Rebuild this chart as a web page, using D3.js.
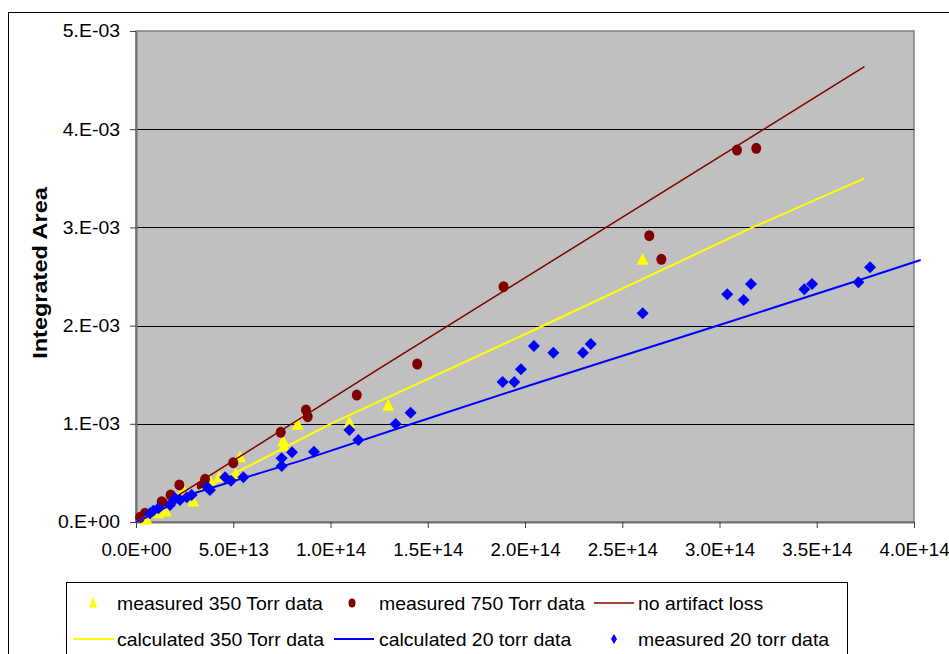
<!DOCTYPE html>
<html>
<head>
<meta charset="utf-8">
<script src="https://cdn.jsdelivr.net/npm/d3@7"></script>
<style>
  html, body { margin: 0; padding: 0; background: #ffffff; }
  svg { display: block; }
  text { font-family: "Liberation Sans", Arial, sans-serif; fill: #000; }
</style>
</head>
<body>
<svg id="chart" width="949" height="654"></svg>
<script>
// ---------------- data ----------------
const xTickValues = [0, 5e13, 1e14, 1.5e14, 2e14, 2.5e14, 3e14, 3.5e14, 4e14];
const xTickLabels = ["0.0E+00", "5.0E+13", "1.0E+14", "1.5E+14", "2.0E+14", "2.5E+14", "3.0E+14", "3.5E+14", "4.0E+14"];
const yTickValues = [0, 1e-3, 2e-3, 3e-3, 4e-3, 5e-3];
const yTickLabels = ["0.E+00", "1.E-03", "2.E-03", "3.E-03", "4.E-03", "5.E-03"];
const yAxisTitle = "Integrated Area";

// measured 350 Torr data (triangles)
const m350X = [0.055e14, 0.115e14, 0.153e14, 0.243e14, 0.295e14, 0.380e14, 0.428e14, 0.514e14, 0.535e14, 0.757e14, 0.761e14, 0.831e14, 1.097e14, 1.297e14, 2.605e14];
const m350Y = [0.020e-3, 0.088e-3, 0.105e-3, 0.326e-3, 0.207e-3, 0.421e-3, 0.455e-3, 0.479e-3, 0.655e-3, 0.818e-3, 0.767e-3, 0.988e-3, 1.005e-3, 1.181e-3, 2.668e-3];

// measured 750 Torr data (circles)
const m750X = [0.021e14, 0.046e14, 0.132e14, 0.140e14, 0.178e14, 0.223e14, 0.338e14, 0.355e14, 0.500e14, 0.744e14, 0.874e14, 0.883e14, 1.135e14, 1.446e14, 1.890e14, 2.639e14, 2.701e14, 3.090e14, 3.189e14];
const m750Y = [0.048e-3, 0.088e-3, 0.207e-3, 0.190e-3, 0.275e-3, 0.377e-3, 0.367e-3, 0.435e-3, 0.604e-3, 0.913e-3, 1.141e-3, 1.073e-3, 1.293e-3, 1.609e-3, 2.396e-3, 2.916e-3, 2.675e-3, 3.788e-3, 3.805e-3];

// no artifact loss (line)
const noLossX = [0, 1.24e14, 3.745e14];
const noLossY = [0, 1.55e-3, 4.637e-3];

// calculated 350 Torr data (line)
const c350X = [0, 0.64e14, 1.0e14, 2.03e14, 3.17e14, 3.745e14];
const c350Y = [0, 0.63e-3, 1.0e-3, 1.94e-3, 3.0e-3, 3.50e-3];

// calculated 20 torr data (line)
const c20X = [0, 0.31e14, 0.64e14, 0.84e14, 1.42e14, 2.03e14, 3.0e14, 3.72e14, 4.034e14];
const c20Y = [0, 0.30e-3, 0.50e-3, 0.62e-3, 1.0e-3, 1.395e-3, 2.006e-3, 2.464e-3, 2.668e-3];

// measured 20 torr data (diamonds)
const m20X = [0.072e14, 0.089e14, 0.115e14, 0.175e14, 0.200e14, 0.226e14, 0.261e14, 0.286e14, 0.367e14, 0.380e14, 0.458e14, 0.488e14, 0.552e14, 0.749e14, 0.749e14, 0.802e14, 0.915e14, 1.097e14, 1.143e14, 1.335e14, 1.412e14, 1.885e14, 1.945e14, 1.979e14, 2.046e14, 2.146e14, 2.298e14, 2.338e14, 2.605e14, 3.040e14, 3.124e14, 3.162e14, 3.436e14, 3.476e14, 3.714e14, 3.774e14];
const m20Y = [0.088e-3, 0.115e-3, 0.139e-3, 0.173e-3, 0.241e-3, 0.224e-3, 0.251e-3, 0.275e-3, 0.353e-3, 0.326e-3, 0.455e-3, 0.421e-3, 0.455e-3, 0.648e-3, 0.570e-3, 0.710e-3, 0.716e-3, 0.937e-3, 0.835e-3, 0.998e-3, 1.113e-3, 1.426e-3, 1.426e-3, 1.555e-3, 1.792e-3, 1.724e-3, 1.724e-3, 1.813e-3, 2.125e-3, 2.319e-3, 2.261e-3, 2.424e-3, 2.369e-3, 2.424e-3, 2.441e-3, 2.594e-3];

const legendRow1 = ["measured 350 Torr data", "measured 750 Torr data", "no artifact loss"];
const legendRow2 = ["calculated 350 Torr data", "calculated 20 torr data", "measured 20 torr data"];

// ---------------- layout / styles ----------------
const C_BROWN = "#800000", C_YELLOW = "#FFFF00", C_BLUE = "#0000FF";
const plot = { left: 136, right: 914, top: 31, bottom: 522 };
const STRETCH = 1.05;

const svg = d3.select("#chart");

function stretch(sel, f) {
  sel.each(function () {
    const l = this.getComputedTextLength();
    this.setAttribute("textLength", (l * f).toFixed(2));
    this.setAttribute("lengthAdjust", "spacingAndGlyphs");
  });
}

const x = d3.scaleLinear().domain([0, 4e14]).range([plot.left, plot.right]);
const y = d3.scaleLinear().domain([0, 5e-3]).range([plot.bottom, plot.top]);

// outer chart frame
svg.append("rect")
  .attr("x", 8.5).attr("y", 12.5).attr("width", 1000).attr("height", 800)
  .attr("fill", "#fff").attr("stroke", "#000").attr("stroke-width", 1);

// plot area
svg.append("rect")
  .attr("x", plot.left).attr("y", plot.top)
  .attr("width", plot.right - plot.left).attr("height", plot.bottom - plot.top)
  .attr("fill", "#C0C0C0").attr("stroke", "#808080").attr("stroke-width", 1.5);

// gridlines
svg.append("g").selectAll("line")
  .data(yTickValues.filter(v => v > 0 && v < 5e-3))
  .join("line")
  .attr("x1", plot.left).attr("x2", plot.right)
  .attr("y1", d => Math.round(y(d)) + 0.5).attr("y2", d => Math.round(y(d)) + 0.5)
  .attr("stroke", "#000").attr("stroke-width", 1);

// axes
const xAxis = d3.axisBottom(x).tickValues(xTickValues)
  .tickFormat((d, i) => xTickLabels[i]).tickSize(6).tickPadding(15).tickSizeOuter(0);
const gx = svg.append("g").attr("transform", `translate(0,${plot.bottom})`).call(xAxis);
gx.select(".domain").attr("stroke", "#707070").attr("stroke-width", 2);
gx.selectAll(".tick line").attr("stroke", "#404040").attr("stroke-width", 1);
gx.selectAll("text").attr("font-size", 18.5).attr("font-family", "Liberation Sans, Arial, sans-serif").call(stretch, 1.01);

const yAxis = d3.axisLeft(y).tickValues(yTickValues)
  .tickFormat((d, i) => yTickLabels[i]).tickSize(6).tickPadding(10).tickSizeOuter(0);
const gy = svg.append("g").attr("transform", `translate(${plot.left},0)`).call(yAxis);
gy.select(".domain").attr("stroke", "#707070").attr("stroke-width", 2);
gy.selectAll(".tick line").attr("stroke", "#404040").attr("stroke-width", 1);
gy.selectAll("text").attr("font-size", 18.5).attr("font-family", "Liberation Sans, Arial, sans-serif").call(stretch, STRETCH);

// y axis title
svg.append("text")
  .attr("transform", "translate(47,273) rotate(-90)")
  .attr("text-anchor", "middle")
  .attr("font-size", 21).attr("font-weight", "bold")
  .text(yAxisTitle)
  .call(stretch, 1.12);

// marker shapes
const triPath = (w, h) => `M0,${-h * 0.6}L${w / 2},${h * 0.4}L${-w / 2},${h * 0.4}Z`;
const diaPath = (w, h) => `M0,${-h / 2}L${w / 2},0L0,${h / 2}L${-w / 2},0Z`;

const pts = (xs, ys) => xs.map((v, i) => [v, ys[i]]);
const line = d3.line().x(d => x(d[0])).y(d => y(d[1]));

// measured 350 (triangles)
svg.append("g").selectAll("path").data(pts(m350X, m350Y)).join("path")
  .attr("transform", d => `translate(${x(d[0])},${y(d[1])})`)
  .attr("d", triPath(12, 12)).attr("fill", C_YELLOW);

// measured 750 (circles)
svg.append("g").selectAll("ellipse").data(pts(m750X, m750Y)).join("ellipse")
  .attr("cx", d => x(d[0])).attr("cy", d => y(d[1]))
  .attr("rx", 5).attr("ry", 5.5).attr("fill", C_BROWN);

// lines
svg.append("path").datum(pts(noLossX, noLossY)).attr("d", line)
  .attr("fill", "none").attr("stroke", C_BROWN).attr("stroke-width", 1.5);
svg.append("path").datum(pts(c350X, c350Y)).attr("d", line)
  .attr("fill", "none").attr("stroke", C_YELLOW).attr("stroke-width", 2);
svg.append("path").datum(pts(c20X, c20Y)).attr("d", line)
  .attr("fill", "none").attr("stroke", C_BLUE).attr("stroke-width", 2);

// measured 20 (diamonds)
svg.append("g").selectAll("path").data(pts(m20X, m20Y)).join("path")
  .attr("transform", d => `translate(${x(d[0])},${y(d[1])})`)
  .attr("d", diaPath(12, 12)).attr("fill", C_BLUE);

// ---------------- legend ----------------
const lg = svg.append("g");
lg.append("rect").attr("x", 66.5).attr("y", 582.5).attr("width", 781).attr("height", 120)
  .attr("fill", "#fff").attr("stroke", "#000").attr("stroke-width", 1);

const row1Y = 603, row2Y = 639;
// row 1
lg.append("path").attr("transform", `translate(93,${row1Y})`).attr("d", triPath(8, 11)).attr("fill", C_YELLOW);
lg.append("ellipse").attr("cx", 352).attr("cy", row1Y).attr("rx", 3.5).attr("ry", 4.5).attr("fill", C_BROWN);
lg.append("line").attr("x1", 594).attr("x2", 634).attr("y1", row1Y).attr("y2", row1Y)
  .attr("stroke", C_BROWN).attr("stroke-width", 1.5);
// row 2
lg.append("line").attr("x1", 73).attr("x2", 114).attr("y1", row2Y).attr("y2", row2Y)
  .attr("stroke", C_YELLOW).attr("stroke-width", 2);
lg.append("line").attr("x1", 334).attr("x2", 374).attr("y1", row2Y).attr("y2", row2Y)
  .attr("stroke", C_BLUE).attr("stroke-width", 2);
lg.append("path").attr("transform", `translate(614,${row2Y})`).attr("d", diaPath(6, 10)).attr("fill", C_BLUE);

const textX1 = [117, 379, 638];
const textX2 = [117, 379, 638];
lg.selectAll("text.r1").data(legendRow1).join("text").attr("class", "r1")
  .attr("x", (d, i) => textX1[i]).attr("y", row1Y).attr("dy", "0.36em")
  .attr("font-size", 18.5).text(d => d).call(stretch, STRETCH);
lg.selectAll("text.r2").data(legendRow2).join("text").attr("class", "r2")
  .attr("x", (d, i) => textX2[i]).attr("y", row2Y).attr("dy", "0.36em")
  .attr("font-size", 18.5).text(d => d).call(stretch, STRETCH);
</script>
</body>
</html>
